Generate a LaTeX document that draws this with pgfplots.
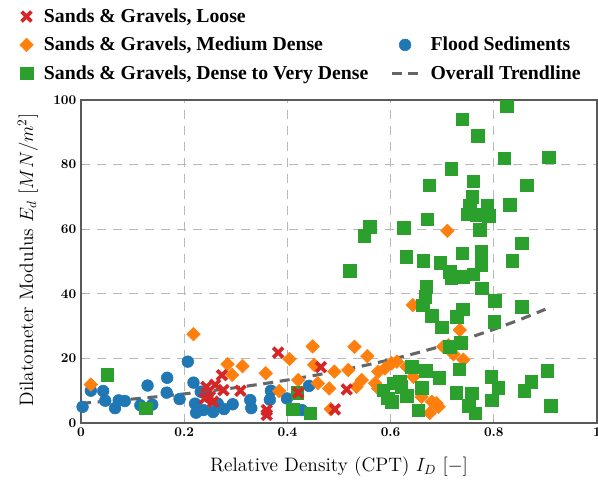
\documentclass[border=0pt]{standalone}
\usepackage{fontspec}
\usepackage{pgfplots}
\pgfplotsset{compat=1.18}
\newfontfamily\tnr{Liberation Serif}

\definecolor{cRed}{HTML}{D62728}
\definecolor{cOrange}{HTML}{FF7F0E}
\definecolor{cGreen}{HTML}{2CA02C}
\definecolor{cBlue}{HTML}{1F77B4}
\definecolor{cTrend}{HTML}{666666}
\definecolor{cFrame}{HTML}{5A5A5A}

\pgfplotsset{
    flood/.style={only marks, color=cBlue, mark=*, mark size=4.4pt},
    medium/.style={only marks, color=cOrange, mark=square*, mark size=3.6pt,
        mark options={rotate=45}},
    dense/.style={only marks, color=cGreen, mark=square*, mark size=4.7pt},
    loose/.style={only marks, color=cRed, mark=x, mark size=5.2pt,
        line width=2.8pt, mark options={line width=2.8pt}},
}

\begin{document}
\begin{tikzpicture}
\begin{axis}[
    scale only axis,
    width=387pt, height=242.25pt,
    xmin=0, xmax=1, ymin=0, ymax=100,
    xtick={0,0.2,0.4,0.6,0.8,1},
    ytick={0,20,40,60,80,100},
    axis line style={cFrame, line width=1.1pt},
    tick style={gray!70, line width=0.5pt},
    major tick length=3pt,
    tick align=inside,
    xtick pos=bottom, ytick pos=left,
    grid=major,
    major grid style={gray!55, line width=0.6pt, dash pattern=on 7pt off 5pt},
    /pgf/number format/assume math mode=true,
    tick label style={font=\bfseries\fontsize{10}{12}\selectfont},
    xlabel={Relative Density (CPT) $I_D$ $[-]$},
    ylabel={Dilatometer Modulus $E_d$ $[MN/m^2]$},
    label style={font=\fontsize{14.6}{17}\selectfont},
    xlabel style={at={(axis description cs:0.5,-0.136)}, anchor=center},
    ylabel style={at={(axis description cs:-0.103,0.505)}, anchor=center},
    legend columns=2,
    legend cell align=left,
    legend style={
        at={(axis description cs:-0.127,1.300)}, anchor=north west,
        draw=none, fill=none,
        font=\tnr\bfseries\fontsize{14.8}{17}\selectfont,
        row sep=5.5pt,
        /tikz/every odd column/.append style={column sep=6pt},
        /tikz/every even column/.append style={column sep=14.5pt},
    },
]

%% Flood Sediments
\addplot[flood, forget plot] coordinates {
    (0.003,5.0)(0.019,10.0)(0.043,9.9)(0.047,6.9)(0.066,4.6)
    (0.073,7.0)(0.085,6.8)(0.129,11.6)(0.115,5.5)(0.138,5.7)
    (0.167,14.0)(0.166,9.4)(0.191,7.4)(0.207,19.0)(0.218,12.5)
    (0.221,6.0)(0.223,3.2)(0.237,9.5)(0.237,4.0)(0.256,3.4)
    (0.277,4.3)(0.294,5.8)(0.328,7.1)(0.330,4.6)(0.368,10.0)
    (0.366,7.2)(0.399,7.6)(0.428,4.0)(0.442,11.5)(0.245,8.5)
    (0.265,6.0)(0.232,9.7)};

%% Medium Dense
\addplot[medium, forget plot] coordinates {
    (0.019,11.9)(0.218,27.5)(0.284,18.2)(0.293,14.9)(0.313,17.6)
    (0.358,15.4)(0.384,9.9)(0.404,19.8)(0.421,13.3)(0.449,23.7)
    (0.452,18.0)(0.459,12.3)(0.481,10.7)(0.491,15.9)(0.484,4.3)
    (0.530,23.6)(0.555,20.7)(0.518,16.4)(0.544,13.3)(0.534,11.2)
    (0.576,15.9)(0.589,16.9)(0.602,18.5)(0.612,19.0)(0.570,12.3)
    (0.576,10.7)(0.631,17.4)(0.644,14.3)(0.660,8.1)(0.680,6.6)
    (0.693,5.0)(0.676,3.1)(0.702,23.6)(0.712,24.1)(0.722,21.3)
    (0.741,19.6)(0.734,28.8)(0.643,36.5)(0.710,59.5)(0.689,6.1)};

%% Dense to Very Dense
\addplot[dense, forget plot] coordinates {
    (0.825,98.0)(0.739,94.0)(0.769,88.9)(0.820,81.9)(0.906,82.2)
    (0.718,78.7)(0.675,73.6)(0.760,74.9)(0.864,73.6)(0.758,70.1)
    (0.787,67.2)(0.831,67.5)(0.753,67.2)(0.749,64.6)(0.767,64.4)
    (0.790,64.2)(0.773,59.8)(0.671,63.1)(0.626,60.5)(0.560,60.8)
    (0.549,57.9)(0.854,55.6)(0.630,51.5)(0.663,50.2)(0.696,49.6)
    (0.739,52.5)(0.776,53.0)(0.836,50.2)(0.715,46.8)(0.718,44.8)
    (0.740,45.3)(0.760,46.0)(0.776,48.9)(0.521,47.1)(0.669,42.2)
    (0.667,39.1)(0.777,41.7)(0.802,37.9)(0.854,36.0)(0.662,36.5)
    (0.680,33.2)(0.740,35.2)(0.728,32.9)(0.699,29.6)(0.801,31.3)
    (0.736,24.9)(0.715,23.6)(0.641,17.4)(0.668,16.1)(0.694,14.0)
    (0.733,16.7)(0.795,14.3)(0.809,10.9)(0.873,12.8)(0.859,10.0)
    (0.904,16.1)(0.910,5.3)(0.796,7.1)(0.727,9.4)(0.757,9.2)
    (0.751,5.3)(0.764,3.0)(0.654,4.0)(0.660,10.9)(0.602,6.6)
    (0.631,8.4)(0.605,12.3)(0.586,10.2)(0.621,11.2)(0.618,12.8)
    (0.595,7.6)(0.051,14.9)(0.126,4.5)(0.410,4.3)(0.444,3.0)
    (0.419,9.4)};

%% Loose
\addplot[loose, forget plot] coordinates {
    (0.382,21.8)(0.465,17.3)(0.421,9.4)(0.309,10.0)(0.273,14.8)
    (0.243,11.2)(0.260,11.8)(0.276,10.2)(0.250,8.1)(0.240,7.6)
    (0.256,6.6)(0.360,4.0)(0.360,2.5)(0.492,4.2)(0.515,10.4)};

%% Overall trendline
\addplot[forget plot, cTrend, line width=2.3pt, dash pattern=on 7.5pt off 5pt]
    coordinates {
    (0.00,6.10)(0.05,6.72)(0.10,7.41)(0.15,8.17)(0.20,9.01)
    (0.25,9.93)(0.30,10.94)(0.35,12.06)(0.40,13.30)(0.45,14.66)
    (0.50,16.16)(0.55,17.81)(0.60,19.63)(0.65,21.64)(0.70,23.85)
    (0.75,26.29)(0.80,28.98)(0.85,31.95)(0.90,35.22)};

%% legend: empty slot keeps Flood Sediments in the second row
\addlegendimage{loose}
\addlegendentry{Sands \& Gravels, Loose}
\addlegendimage{empty legend}
\addlegendentry{}
\addlegendimage{medium}
\addlegendentry{Sands \& Gravels, Medium Dense}
\addlegendimage{flood}
\addlegendentry{Flood Sediments}
\addlegendimage{dense}
\addlegendentry{Sands \& Gravels, Dense to Very Dense}
\addlegendimage{legend image code/.code={\draw[cTrend, line width=2.3pt, dash pattern=on 7.5pt off 5pt] (-0.05cm,0) -- (0.65cm,0);}}
\addlegendentry{Overall Trendline}
\end{axis}
\pgfresetboundingbox
\path[use as bounding box] (-60.75pt,-45.75pt) rectangle (387.75pt,317.25pt);
\end{tikzpicture}
\end{document}
